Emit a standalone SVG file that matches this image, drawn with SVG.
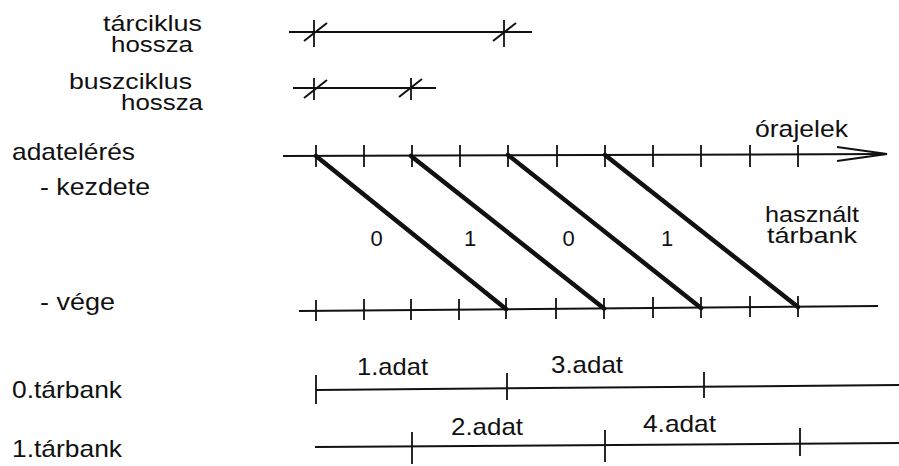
<svg xmlns="http://www.w3.org/2000/svg" width="899" height="466" viewBox="0 0 899 466">
  <style>
    text { font-family: "Liberation Sans", Arial, Helvetica, sans-serif; fill: #111; }
    .lbl { font-size: 24px; }
    .sm { font-size: 22px; }
    .num { font-size: 22px; }
    .ln { stroke: #111; stroke-width: 2; fill: none; stroke-linecap: butt; }
    .tk { stroke: #111; stroke-width: 1.8; fill: none; }
    .dg { stroke: #111; stroke-width: 4.5; fill: none; stroke-linecap: round; }
  </style>
  <rect width="899" height="466" fill="#fff"/>

  <g id="label-tarciklus">
    <text class="sm" x="103" y="31" textLength="99" lengthAdjust="spacingAndGlyphs">tárciklus</text>
    <text class="sm" x="111" y="52" textLength="82" lengthAdjust="spacingAndGlyphs">hossza</text>
  </g>
  <g id="label-buszciklus">
    <text class="sm" x="69" y="89" textLength="123" lengthAdjust="spacingAndGlyphs">buszciklus</text>
    <text class="sm" x="121" y="110" textLength="82" lengthAdjust="spacingAndGlyphs">hossza</text>
  </g>
  <g id="label-adateleres">
    <text class="lbl" x="12" y="160" textLength="123" lengthAdjust="spacingAndGlyphs">adatelérés</text>
  </g>
  <g id="label-kezdete">
    <text class="lbl" x="40" y="195" textLength="110" lengthAdjust="spacingAndGlyphs">- kezdete</text>
  </g>
  <g id="label-vege">
    <text class="lbl" x="40" y="310" textLength="75" lengthAdjust="spacingAndGlyphs">- vége</text>
  </g>
  <g id="label-tarbank0">
    <text class="lbl" x="12" y="398" textLength="110" lengthAdjust="spacingAndGlyphs">0.tárbank</text>
  </g>
  <g id="label-tarbank1">
    <text class="lbl" x="12" y="457" textLength="110" lengthAdjust="spacingAndGlyphs">1.tárbank</text>
  </g>
  <g id="label-orajelek">
    <text class="lbl" x="755" y="137" textLength="93" lengthAdjust="spacingAndGlyphs">órajelek</text>
  </g>
  <g id="label-hasznalt">
    <text class="sm" x="765" y="222" textLength="94" lengthAdjust="spacingAndGlyphs">használt</text>
    <text class="sm" x="767" y="243" textLength="90" lengthAdjust="spacingAndGlyphs">tárbank</text>
  </g>
  <g id="bank-numbers">
    <text class="num" x="376.5" y="246" text-anchor="middle">0</text>
    <text class="num" x="470" y="246" text-anchor="middle">1</text>
    <text class="num" x="568.5" y="246" text-anchor="middle">0</text>
    <text class="num" x="667" y="246" text-anchor="middle">1</text>
  </g>
  <g id="data-labels">
    <text class="lbl" x="357" y="375" textLength="71" lengthAdjust="spacingAndGlyphs">1.adat</text>
    <text class="lbl" x="551" y="373" textLength="72" lengthAdjust="spacingAndGlyphs">3.adat</text>
    <text class="lbl" x="451" y="435" textLength="72" lengthAdjust="spacingAndGlyphs">2.adat</text>
    <text class="lbl" x="643" y="432" textLength="73" lengthAdjust="spacingAndGlyphs">4.adat</text>
  </g>

  <g id="connectors">
    <g id="tarciklus-bar">
      <line class="ln" x1="289" y1="32" x2="532" y2="32"/>
      <line class="tk" x1="314" y1="20" x2="314" y2="47"/>
      <line class="ln" x1="304" y1="41" x2="327" y2="23"/>
      <line class="tk" x1="504" y1="20" x2="504" y2="47"/>
      <line class="ln" x1="493" y1="41" x2="516" y2="23"/>
    </g>
    <g id="buszciklus-bar">
      <line class="ln" x1="293" y1="88" x2="436" y2="88"/>
      <line class="tk" x1="314" y1="78" x2="314" y2="100"/>
      <line class="ln" x1="304" y1="98" x2="327" y2="80"/>
      <line class="tk" x1="411" y1="78" x2="411" y2="100"/>
      <line class="ln" x1="399" y1="97" x2="422" y2="79"/>
    </g>
    <g id="clock-axis">
      <line class="ln" x1="283" y1="156" x2="885" y2="154"/>
      <polyline class="ln" points="837,147 887,154 837,161"/>
      <path class="tk" d="M316,145V167 M364,145V167 M412,145V167 M460,145V167 M508,145V167 M557,145V167 M605,145V167 M653,145V167 M701,145V167 M750,145V167 M798,145V167"/>
    </g>
    <g id="end-axis">
      <line class="ln" x1="299" y1="311" x2="878" y2="306"/>
      <path class="tk" d="M316,300V321 M364,299V320 M411,299V320 M459,299V320 M506,298V319 M556,298V319 M604,298V319 M653,297V318 M701,297V318 M750,296V317 M798,296V317"/>
    </g>
    <g id="access-diagonals">
      <line class="dg" x1="316" y1="156" x2="506" y2="309"/>
      <line class="dg" x1="411" y1="156" x2="604" y2="308.5"/>
      <line class="dg" x1="508" y1="155" x2="701" y2="308"/>
      <line class="dg" x1="605" y1="155" x2="798" y2="307"/>
    </g>
    <g id="bank0-axis">
      <line class="ln" x1="316" y1="390" x2="899" y2="385"/>
      <path class="tk" d="M316,375V404 M507,373V400 M704,372V398"/>
    </g>
    <g id="bank1-axis">
      <line class="ln" x1="315" y1="447" x2="899" y2="443"/>
      <path class="tk" d="M412,432V464 M605,430V462 M800,428V456"/>
    </g>
  </g>
</svg>
